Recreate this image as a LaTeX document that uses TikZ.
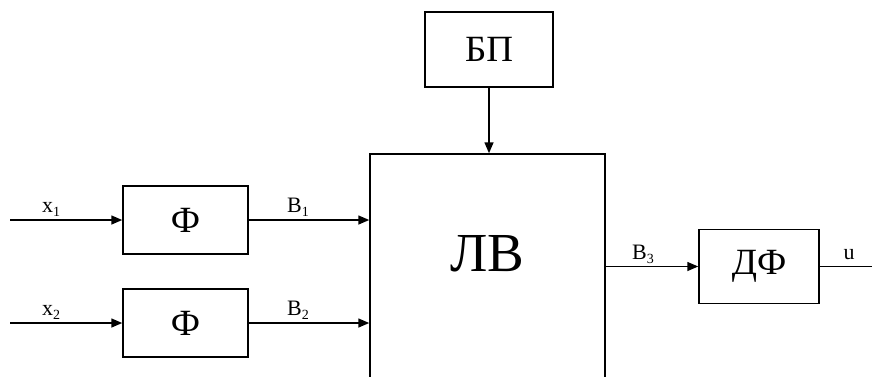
\documentclass[tikz,border=0pt]{standalone}
\usepackage{fontspec}
\setmainfont{Liberation Serif}
\usetikzlibrary{arrows.meta}
\newcommand{\sbs}[1]{\raisebox{-0.22em}{\fontsize{14}{14}\selectfont #1}}
\begin{document}
\begin{tikzpicture}[x=1pt,y=-1pt,line width=1.5pt,
  blk/.style={draw,line width=1.5pt,inner sep=0pt,font=\fontsize{37}{40}\selectfont},
  arr/.style={-{Triangle[length=11pt,width=9pt]}},
  lab/.style={font=\fontsize{22}{22}\selectfont,inner sep=0pt,anchor=base}]
\useasboundingbox (0,0) rectangle (872,376);
\clip (0,0) rectangle (872,376);
\node[blk,minimum width=125pt,minimum height=68pt] (F1) at (185.5,220) {Ф};
\node[blk,minimum width=125pt,minimum height=68pt] (F2) at (185.5,323) {Ф};
\node[blk,minimum width=128pt,minimum height=75pt] (BP) at (489,49.5) {БП};
\node[blk,minimum width=235pt,minimum height=266pt] (LV) at (487.5,287) {};
\node[font=\fontsize{55}{60}\selectfont,inner sep=0pt] (LVt) at (487,254) {ЛВ};
\node[blk,minimum width=120pt,minimum height=74pt] (DF) at (759,266.5) {ДФ};
\coordinate (in1) at (10,220);
\coordinate (in2) at (10,323);
\coordinate (out) at (880,266.5);
\draw[arr] (in1) -- (F1.west);
\draw[arr] (in2) -- (F2.west);
\draw[arr] (F1.east) -- (F1.east -| LV.west);
\draw[arr] (F2.east) -- (F2.east -| LV.west);
\draw[arr] (BP.south) -- (BP.south |- LV.north);
\draw[arr] (DF.west -| LV.east) -- (DF.west);
\draw (DF.east) -- (out);
\node[lab] (lx1) at (51,212) {x\sbs{1}};
\node[lab] (lx2) at (51,315) {x\sbs{2}};
\node[lab] (lb1) at (298,212) {В\sbs{1}};
\node[lab] (lb2) at (298,315) {В\sbs{2}};
\node[lab] (lb3) at (643,259) {В\sbs{3}};
\node[lab] (lu) at (849,259) {u};
\end{tikzpicture}
\end{document}
